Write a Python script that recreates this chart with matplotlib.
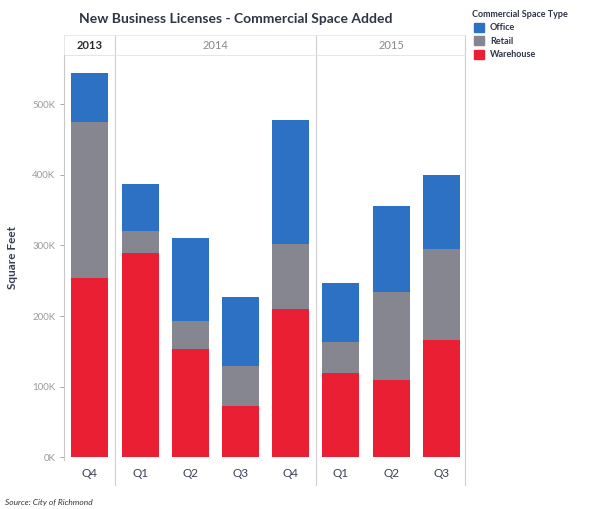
import numpy as np
import matplotlib
matplotlib.use("Agg")
import matplotlib.pyplot as plt
import matplotlib.transforms as mtransforms
from matplotlib.patches import Patch

plt.rcParams['font.family'] = ['Lato', 'DejaVu Sans']

# quarters and the year each belongs to
quarters = ["Q4", "Q1", "Q2", "Q3", "Q4", "Q1", "Q2", "Q3"]
years = ["2013", "2014", "2015"]
year_span = [(0, 0), (1, 4), (5, 7)]

# square feet added, in thousands
warehouse = [254, 289, 153, 72, 210, 119, 109, 166]
retail = [221, 32, 40, 57, 92, 44, 125, 129]
office = [70, 66, 118, 98, 176, 84, 122, 105]

c_office = '#2d71c4'
c_retail = '#85868f'
c_warehouse = '#ea1f33'

fig = plt.figure(figsize=(5.96, 5.09), dpi=100)
ax = fig.add_axes([0.107, 0.0963, 0.673, 0.7957])

x = np.arange(len(quarters))
w = np.array(warehouse) * 1000
r = np.array(retail) * 1000
o = np.array(office) * 1000
ax.bar(x, w, width=0.74, color=c_warehouse)
ax.bar(x, r, width=0.74, bottom=w, color=c_retail)
ax.bar(x, o, width=0.74, bottom=w + r, color=c_office)

ax.set_xlim(-0.52, 7.47)
ax.set_ylim(-4000, 570000)
ax.set_yticks(np.arange(0, 500001, 100000))
ax.set_yticklabels(["0K", "100K", "200K", "300K", "400K", "500K"])
ax.tick_params(axis='y', labelsize=7, colors='#9a9a9a', length=3, width=0.6, pad=3)
ax.set_xticks(x)
ax.set_xticklabels(quarters)
ax.tick_params(axis='x', labelsize=8.5, labelcolor='#3a3f55', length=0, pad=6)

for s in ['top', 'right', 'bottom']:
    ax.spines[s].set_visible(False)
ax.spines['left'].set_color('#c8c8c8')
ax.spines['left'].set_linewidth(0.8)

ax.set_ylabel("Square Feet", fontsize=8.5, fontweight='bold', color='#3a3f55', labelpad=10)

# year header row and column dividers
trans = mtransforms.blended_transform_factory(ax.transData, ax.transAxes)
for xd in [0.5, 4.5, 7.47]:
    ax.plot([xd, xd], [-0.062, 1.049], transform=trans, color='#cfcfcf',
            lw=0.8, clip_on=False)
ax.plot([-0.52, 7.47], [1.0, 1.0], transform=trans, color='#e2e2e2', lw=0.6, clip_on=False)
ax.plot([-0.52, 7.47], [1.049, 1.049], transform=trans, color='#e8e8e8', lw=0.6, clip_on=False)
ax.plot([-0.52, -0.52], [1.0, 1.049], transform=trans, color='#e2e2e2', lw=0.6, clip_on=False)
for (a, b), yr in zip(year_span, years):
    bold = yr == "2013"
    ax.text((a + b) / 2, 1.024, yr, transform=trans, ha='center', va='center',
            fontsize=8, fontweight='bold' if bold else 'normal',
            color='#2a2a2a' if bold else '#8a8a8a')

fig.text(0.396, 0.962, "New Business Licenses - Commercial Space Added", ha='center',
         va='center', fontsize=10, fontweight='bold', color='#2f3446')

# legend
fig.text(0.792, 0.972, "Commercial Space Type", fontsize=6.5, fontweight='bold',
         color='#2f3446', va='center')
handles = [Patch(color=c_office, label='Office'),
           Patch(color=c_retail, label='Retail'),
           Patch(color=c_warehouse, label='Warehouse')]
leg = fig.legend(handles=handles, loc='upper left', bbox_to_anchor=(0.79, 0.962),
                 frameon=False, fontsize=6.5, handlelength=1.1, handleheight=1.1,
                 handletextpad=0.6, labelspacing=0.45, borderaxespad=0)
for t in leg.get_texts():
    t.set_color('#2f3446')
    t.set_fontweight('bold')

fig.text(0.008, 0.012, "Source: City of Richmond", fontsize=6, style='italic',
         color='#333333', va='center')

fig.savefig("out.png", dpi=100)
